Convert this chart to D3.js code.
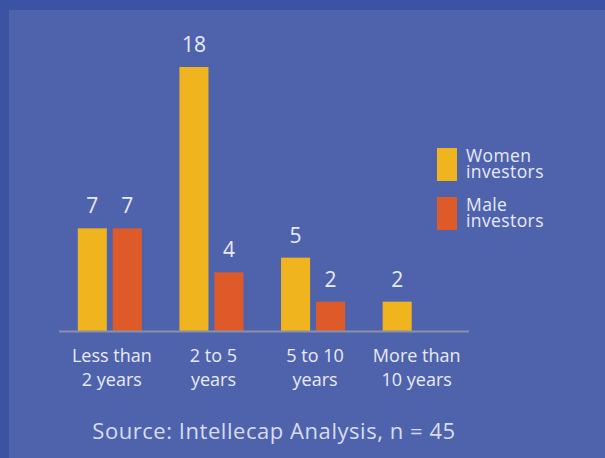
<!DOCTYPE html>
<html>
<head>
<meta charset="utf-8">
<script src="https://cdn.jsdelivr.net/npm/d3@7"></script>
<style>
  body { margin: 0; background: #3b53a3; }
  svg { display: block; }
</style>
</head>
<body>
<svg id="chart" width="605" height="458"></svg>
<script>
// data
const categories = ["Less than|2 years", "2 to 5|years", "5 to 10|years", "More than|10 years"];
const seriesNames = ["Women|investors", "Male|investors"];
const women = [7, 18, 5, 2];
const men = [7, 4, 2, null];
const source = "Source: Intellecap Analysis, n = 45";

const colors = ["#f0b41f", "#de5a28"];
const textColor = "#e8eaf6";
const font = "'Open Sans', sans-serif";

const svg = d3.select("#chart");
const width = 605, height = 458;

// frame
svg.append("rect").attr("width", width).attr("height", height).attr("fill", "#3b53a3");
svg.append("rect").attr("x", 9).attr("y", 10).attr("width", width - 9).attr("height", height - 10)
    .attr("fill", "#4f63ad");

const baseline = 331;

const x0 = d3.scaleBand()
    .domain(categories)
    .range([59, 465.5])
    .paddingInner(0.37)
    .paddingOuter(0.185);

const x1 = d3.scaleBand()
    .domain([0, 1])
    .range([0, x0.bandwidth()])
    .paddingInner(0.17);

const y = d3.scaleLinear()
    .domain([0, 18])
    .range([baseline, 67]);

const rows = categories.map((c, i) => ({cat: c, vals: [women[i], men[i]]}));

const groups = svg.append("g").selectAll("g")
    .data(rows)
    .join("g")
    .attr("transform", d => `translate(${x0(d.cat)},0)`);

const bars = groups.selectAll("g")
    .data(d => d.vals.map((v, s) => ({v: v, s: s})).filter(d => d.v != null))
    .join("g");

bars.append("rect")
    .attr("x", d => x1(d.s))
    .attr("y", d => y(d.v))
    .attr("width", x1.bandwidth())
    .attr("height", d => baseline - y(d.v))
    .attr("fill", d => colors[d.s]);

bars.append("text")
    .attr("x", d => x1(d.s) + x1.bandwidth() / 2)
    .attr("y", d => y(d.v) - 15)
    .attr("text-anchor", "middle")
    .attr("font-family", font)
    .attr("font-size", 21)
    .attr("fill", textColor)
    .text(d => d.v);

// axis line
svg.append("line")
    .attr("x1", 59).attr("x2", 469)
    .attr("y1", baseline + 0.5).attr("y2", baseline + 0.5)
    .attr("stroke", "#8b8fa9")
    .attr("stroke-width", 2);

// category labels
const xAxis = svg.append("g").selectAll("text")
    .data(categories)
    .join("text")
    .attr("x", d => x0(d) + x0.bandwidth() / 2 + 2)
    .attr("y", 362)
    .attr("text-anchor", "middle")
    .attr("font-family", font)
    .attr("font-size", 18)
    .attr("fill", textColor);

xAxis.selectAll("tspan")
    .data(d => d.split("|"))
    .join("tspan")
    .attr("x", function() { return d3.select(this.parentNode).attr("x"); })
    .attr("dy", (d, i) => i ? 24 : 0)
    .text(d => d);

// legend
const legend = svg.append("g").selectAll("g")
    .data(seriesNames)
    .join("g")
    .attr("transform", (d, i) => `translate(437,${148 + i * 49})`);

legend.append("rect")
    .attr("width", 20)
    .attr("height", 33)
    .attr("fill", (d, i) => colors[i]);

legend.append("text")
    .attr("x", 29)
    .attr("y", 14)
    .attr("font-family", font)
    .attr("font-size", 17.5)
    .attr("letter-spacing", 0.4)
    .attr("fill", textColor)
    .selectAll("tspan")
    .data(d => d.split("|"))
    .join("tspan")
    .attr("x", 29)
    .attr("dy", (d, i) => i ? 16 : 0)
    .text(d => d);

svg.append("text")
    .attr("x", 274)
    .attr("y", 439)
    .attr("text-anchor", "middle")
    .attr("font-family", font)
    .attr("font-size", 22)
    .attr("letter-spacing", 0.55)
    .attr("fill", "#d8dcf0")
    .text(source);
</script>
</body>
</html>
